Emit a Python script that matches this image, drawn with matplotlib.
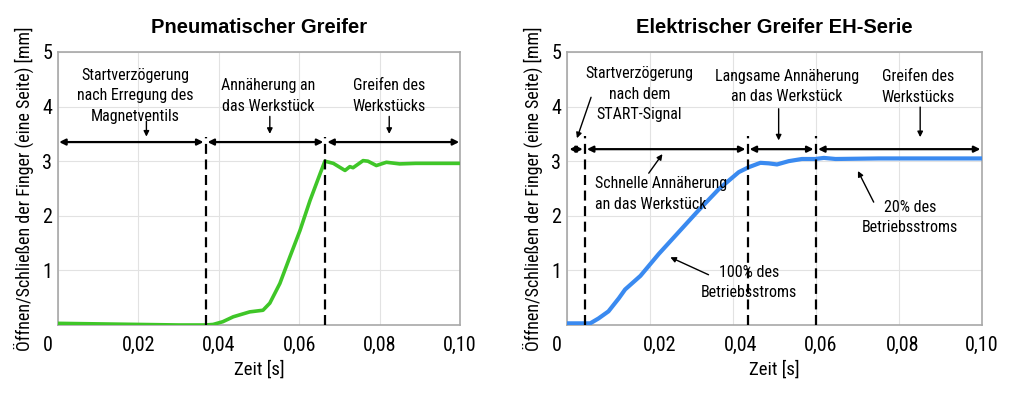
import matplotlib
matplotlib.use("Agg")
import matplotlib.pyplot as plt
from matplotlib.transforms import ScaledTranslation

# --- data ---
# pneumatic gripper (green)
pn_t = [0.0, 0.010, 0.020, 0.030, 0.0367, 0.0386, 0.0410, 0.0436, 0.0477, 0.0510,
        0.0527, 0.0552, 0.0577, 0.0602, 0.0627, 0.0652, 0.0664, 0.0685, 0.0714,
        0.0726, 0.0734, 0.0759, 0.0771, 0.0792, 0.0817, 0.0850, 0.0890, 0.0950, 0.100]
pn_s = [0.03, 0.02, 0.01, 0.0, 0.0, 0.01, 0.06, 0.15, 0.24, 0.27,
        0.40, 0.76, 1.25, 1.73, 2.28, 2.77, 3.00, 2.96, 2.83,
        2.90, 2.88, 3.01, 3.00, 2.92, 2.98, 2.95, 2.96, 2.96, 2.96]

# electric gripper EH series (blue)
el_t = [0.0, 0.0056, 0.0076, 0.0100, 0.0125, 0.0140, 0.0177, 0.0221, 0.0269,
        0.0317, 0.0366, 0.0414, 0.0438, 0.0466, 0.0486, 0.0506, 0.0534, 0.0566,
        0.0598, 0.0619, 0.0647, 0.0751, 0.100]
el_s = [0.03, 0.03, 0.12, 0.25, 0.49, 0.65, 0.90, 1.30, 1.70,
        2.10, 2.49, 2.80, 2.89, 2.97, 2.96, 2.94, 3.00, 3.04,
        3.04, 3.06, 3.04, 3.05, 3.05]

x_ticks = [0.0, 0.02, 0.04, 0.06, 0.08, 0.10]
x_labels = ["", "0,02", "0,04", "0,06", "0,08", "0,10"]
y_ticks = [1, 2, 3, 4, 5]

pn_phases = [0.0367, 0.0664]
pn_spans = [(0.0003, 0.0362), (0.0372, 0.0660), (0.0670, 0.0998)]
pn_notes = ["Startverzögerung\nnach Erregung des\nMagnetventils",
            "Annäherung an\ndas Werkstück",
            "Greifen des\nWerkstücks"]
pn_note_x = [0.0192, 0.0522, 0.0824]
pn_note_top = [4.71, 4.52, 4.52]
pn_ptr = [(0.0220, 3.73, 3.45), (0.0527, 3.82, 3.50), (0.0824, 3.82, 3.50)]

el_phases = [0.0043, 0.0435, 0.0599]
el_spans = [(0.0006, 0.0038), (0.0048, 0.0430), (0.0440, 0.0594), (0.0605, 0.0996)]
el_notes = ["Startverzögerung\nnach dem\nSTART-Signal",
            "Langsame Annäherung\nan das Werkstück",
            "Greifen des\nWerkstücks",
            "100% des\nBetriebsstroms",
            "20% des\nBetriebsstroms"]
el_note_x = [0.0175, 0.0530, 0.0846, 0.0438, 0.0827]
el_note_top = [4.74, 4.69, 4.68, 1.10, 2.29]
# pointer arrows (x0, y0) -> (x1, y1)
el_ptr = [(0.0058, 4.17, 0.0024, 3.42), (0.0510, 3.96, 0.0510, 3.38),
          (0.0851, 3.99, 0.0851, 3.44), (0.0197, 2.78, 0.0230, 3.13),
          (0.0341, 0.92, 0.0249, 1.24), (0.0739, 2.25, 0.0701, 2.82)]
# the right chart's tick labels sit a little right of their grid lines (px)
el_label_shift = [0, 10, 8, 5, 4, 0]

GREEN = "#3fc628"
BLUE = "#3a8af0"

plt.rcParams["font.family"] = ["Roboto Condensed", "Liberation Sans Narrow", "Roboto"]

fig = plt.figure(figsize=(10.24, 3.97), dpi=100)
ax1 = fig.add_axes([0.0566, 0.1814, 0.3926, 0.6877])
ax2 = fig.add_axes([0.5537, 0.1814, 0.4053, 0.6877])


def style(ax, title):
    ax.set_xlim(0, 0.10)
    ax.set_ylim(0, 5)
    ax.set_xticks(x_ticks)
    ax.set_xticklabels(x_labels)
    ax.set_yticks(y_ticks)
    ax.tick_params(length=0, labelsize=14.5)
    ax.tick_params(axis="x", pad=8)
    ax.tick_params(axis="y", pad=4)
    ax.grid(color="#e2e2e2", lw=0.8)
    ax.set_axisbelow(True)
    for s in ax.spines.values():
        s.set_color("#a8a8a8")
        s.set_linewidth(1.2)
    ax.set_xlabel("Zeit [s]", fontsize=13.5, labelpad=4)
    ax.set_ylabel("Öffnen/Schließen der Finger (eine Seite) [mm]", fontsize=13, labelpad=6)
    ax.set_title(title, fontsize=14.5, fontweight="bold", family="Liberation Sans", pad=14)
    # shared "0" in the lower left corner
    ax.annotate("0", xy=(0, 0), xycoords="axes fraction", xytext=(-4, -8),
                textcoords="offset points", ha="right", va="top", fontsize=14.5)


def span_arrow(ax, x0, x1, y):
    ax.annotate("", xy=(x1, y), xytext=(x0, y),
                arrowprops=dict(arrowstyle="<|-|>", color="black", lw=1.6,
                                mutation_scale=9, shrinkA=0, shrinkB=0))


def pointer(ax, x0, y0, x1, y1):
    ax.annotate("", xy=(x1, y1), xytext=(x0, y0),
                arrowprops=dict(arrowstyle="-|>", color="black", lw=1.0,
                                mutation_scale=8, shrinkA=0, shrinkB=0))


def note(ax, x, y, txt, ha="center"):
    ax.text(x, y, txt, ha=ha, va="top", fontsize=11.5, linespacing=1.45)


# --- left: pneumatic gripper ---
style(ax1, "Pneumatischer Greifer")
ax1.plot(pn_t, pn_s, color=GREEN, lw=2.6, solid_capstyle="round", zorder=3)
for x in pn_phases:
    ax1.plot([x, x], [0, 3.45], color="black", lw=1.6, ls=(0, (4.5, 2.5)), zorder=4)
for x0, x1 in pn_spans:
    span_arrow(ax1, x0, x1, 3.35)
for x, y, txt in zip(pn_note_x, pn_note_top, pn_notes):
    note(ax1, x, y, txt)
for x, y0, y1 in pn_ptr:
    pointer(ax1, x, y0, x, y1)

# --- right: electric gripper ---
style(ax2, "Elektrischer Greifer EH-Serie")
for lbl, dx in zip(ax2.get_xticklabels(), el_label_shift):
    lbl.set_transform(lbl.get_transform() + ScaledTranslation(dx / 100, 0, fig.dpi_scale_trans))
ax2.plot(el_t, el_s, color=BLUE, lw=3.0, solid_capstyle="butt", zorder=3)
for x in el_phases:
    ax2.plot([x, x], [0, 3.47], color="black", lw=1.6, ls=(0, (4.5, 2.5)), zorder=4)
for x0, x1 in el_spans:
    span_arrow(ax2, x0, x1, 3.22)
for x, y, txt in zip(el_note_x, el_note_top, el_notes):
    note(ax2, x, y, txt)
note(ax2, 0.0068, 2.72, "Schnelle Annäherung\nan das Werkstück", ha="left")
for x0, y0, x1, y1 in el_ptr:
    pointer(ax2, x0, y0, x1, y1)

fig.savefig("out.png", dpi=100)
